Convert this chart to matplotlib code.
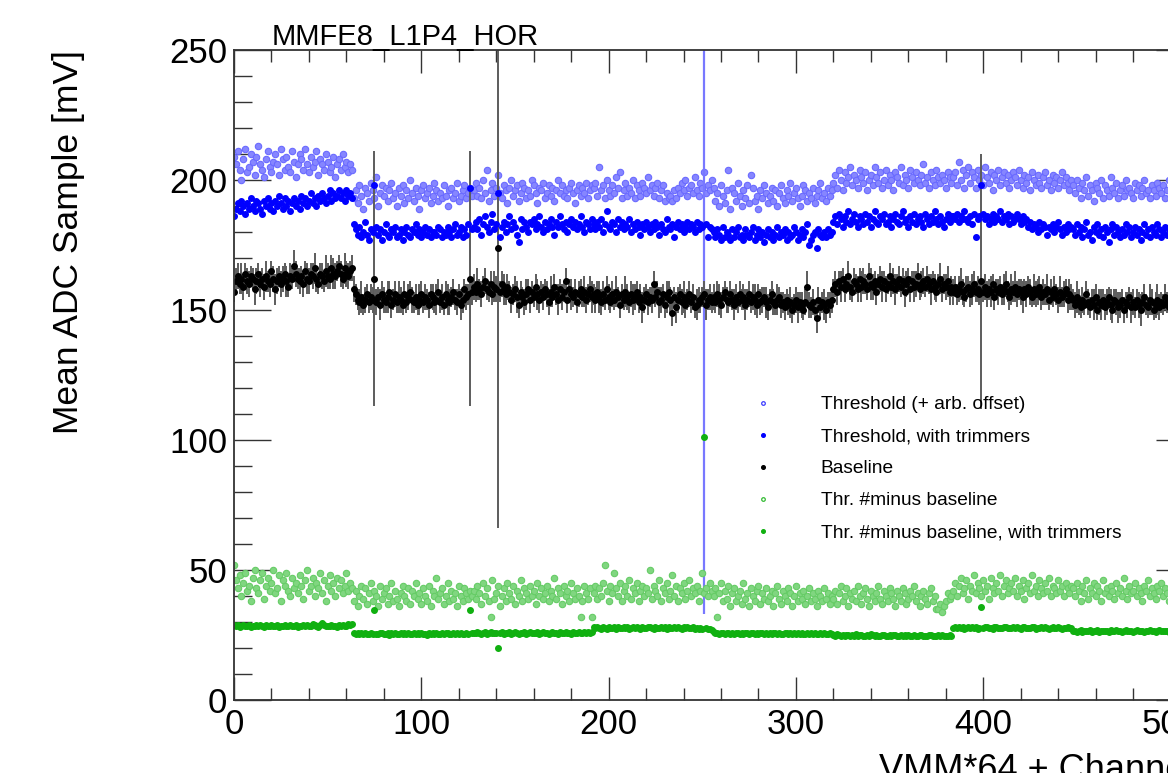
"""MMFE8_L1P4_HOR : threshold / baseline scan per channel (ROOT-style canvas)"""
import matplotlib
matplotlib.use("Agg")
import matplotlib.pyplot as plt
from matplotlib.lines import Line2D
from matplotlib.ticker import MultipleLocator
import numpy as np

plt.rcParams["font.family"] = ["Liberation Sans", "DejaVu Sans"]

# ── data: one value per channel (VMM*64 + channel), two lines of 32 per VMM ──
THR_RAW = np.array("""
209 206 211 204 200 208 212 203  205 210 207 202 209 213 206 204  201 208 211 205 203 207 210 206  202 212 208 204 209 205 203 211
207 201 206 210 208 204 212 206  203 209 205 207 211 202 208 206  204 210 207 203 205 209 201 206  208 204 210 205 207 203 206 204
193 196 191 198 194 189 197 195  192 199 196 193 201 190 195 198  194 197 192 196 199 193 195 190  197 194 198 191 196 193 200 195
192 197 194 189 196 198 193 195  197 191 194 199 196 192 195 193  198 194 190 196 197 193 195 199  192 194 196 198 193 195 197 194
196 199 194 197 193 200 195 204  192 196 199 194 197 202 195 193  198 196 191 197 200 194 196 198  192 195 199 197 193 196 194 200
198 195 191 197 196 199 193 195  198 194 197 192 196 200 195 198  194 196 193 197 199 195 191 196  198 194 197 195 199 193 196 198
197 199 194 205 196 198 193 200  196 194 198 195 201 197 203 193  196 199 194 197 195 200 193 198  196 194 199 197 195 201 196 198
194 197 199 193 196 198 192 195  193 194 192 196 193 197 195 199  196 200 194 197 198 195 201 196  194 199 197 203 195 198 196 200
197 192 195 190 198 194 191 196  204 189 197 195 192 199 194 190  196 193 198 191 202 197 192 194  189 196 193 198 195 191 194 197
192 196 190 195 198 193 191 196  194 199 192 195 197 193 190 194  198 196 192 195 193 197 191 194  196 199 193 195 192 197 194 196
199 202 197 204 200 196 203 199  201 205 198 202 200 197 204 201  199 203 196 200 202 198 205 201  199 203 197 200 204 198 202 200
196 203 201 199 205 198 202 200  197 204 201 199 203 200 198 202  206 199 201 197 203 200 198 204  201 199 202 200 197 203 201 199
201 203 198 207 200 204 197 202  205 199 203 201 197 204 200 202  198 205 201 199 203 196 202 200  204 198 201 203 199 202 197 200
203 201 198 204 200 197 202 199  201 196 203 200 198 202 199 197  201 203 198 200 196 202 199 201  197 200 203 198 201 199 196 200
198 195 200 197 193 199 196 201  194 198 196 192 199 197 195 200  193 198 196 194 201 197 195 199  193 196 198 194 200 196 197 195
193 199 196 198 194 197 200 195  196 193 198 196 194 199 197 195  198 193 196 200 194 197 195 198  196 194 199 197 195 198 196 197
""".split(), dtype=float)

THR_TRIM = np.array("""
186 189 191 188 192 190 187 191  189 193 190 188 192 191 189 187  192 190 193 189 191 188 192 190  194 191 189 193 190 192 188 191
193 190 192 189 194 191 193 190  192 195 191 193 190 194 192 195  193 191 194 196 192 195 193 194  196 193 195 192 196 194 195 193
183 181 179 182 178 180 184 179  177 181 180 198 182 179 181 177  180 183 179 178 181 180 182 178  179 181 177 180 182 179 178 181
180 183 179 181 178 180 182 179  181 178 180 180 179 182 181 178  180 179 182 180 178 181 183 179  180 182 178 181 179 183 197 181
182 184 181 185 179 183 186 182  180 184 187 181 183 195 178 182  184 180 183 186 181 184 182 179  176 185 181 184 182 180 184 183
185 181 183 186 182 180 184 181  183 185 182 179 184 182 186 183  181 184 180 183 185 182 184 181  183 186 182 180 184 183 181 185
183 181 184 182 185 180 183 188  182 181 184 183 180 185 182 184  181 183 182 185 180 183 181 184  182 179 183 181 184 182 180 183
181 184 182 179 183 181 180 185  182 181 183 178 182 184 181 183  180 182 184 181 183 182 180 184  181 183 182 256 183 178 182 181
180 178 181 179 177 182 178 180  179 177 181 178 180 182 178 179  177 181 179 178 180 182 177 179  181 178 180 176 179 181 178 180
177 179 182 178 180 179 181 177  180 178 179 182 180 177 179 181  178 180 183 175 177 179 180 174  181 179 178 180 178 181 179 180
184 186 183 187 185 182 186 184  188 183 185 187 184 182 186 185  183 187 184 186 182 185 188 184  183 186 185 187 183 184 186 182
185 187 184 183 186 188 184 185  182 186 184 187 183 185 186 184  182 187 185 183 186 184 188 185  183 186 184 182 185 187 184 186
186 185 187 184 186 185 188 185  184 186 183 187 178 185 186 198  187 185 186 183 185 187 184 186  185 188 184 186 185 187 183 186
184 185 187 185 183 186 184 185  182 184 181 183 182 180 184 181  183 182 179 182 181 183 180 182  184 181 179 182 180 183 181 182
181 179 183 180 182 178 181 184  179 180 177 182 180 183 179 181  178 182 180 176 181 183 179 182  180 178 181 179 183 180 182 178
180 182 179 181 177 180 183 179  181 178 182 180 179 183 181 178  180 182 179 181 183 180 178 181  182 179 181 180 182 178 181 180
""".split(), dtype=float)

BASELINE = np.array("""
157 161 163 160 162 159 164 161  160 163 162 158 161 164 160 162  159 163 161 160 165 162 158 161  163 160 162 164 161 159 163 162
167 164 162 161 163 160 165 162  161 164 163 166 162 160 164 163  161 165 163 162 166 164 163 165  167 164 162 166 164 163 165 166
158 156 154 153 155 152 154 156  153 155 154 162 153 155 152 156  154 153 155 157 152 154 156 153  155 154 152 156 153 155 157 154
153 155 152 154 156 153 155 154  152 156 155 153 154 157 153 155  152 156 154 153 155 157 154 153  156 152 154 158 155 156 162 157
159 157 160 158 156 159 161 158  157 160 156 159 158 174 157 160  158 156 159 157 154 156 158 155  152 157 155 153 156 158 154 157
155 159 156 154 157 155 158 156  153 157 155 159 156 154 158 155  157 161 154 158 156 155 157 153  156 158 155 157 154 156 158 155
156 154 157 155 153 156 154 158  155 153 156 154 157 155 152 156  154 157 155 153 156 154 155 157  153 155 151 154 156 153 155 154
160 155 157 153 154 156 152 155  157 154 149 155 151 154 156 153  155 152 154 156 153 155 151 152  154 153 155 156 152 154 155 153
155 153 156 154 152 155 157 154  153 156 154 152 155 153 156 154  155 152 154 156 153 155 154 152  156 153 154 155 153 151 154 156
153 152 154 155 152 153 151 154  152 153 150 152 154 151 153 152  150 153 159 152 151 153 150 147  154 151 153 152 150 153 152 154
158 160 157 161 159 162 158 160  163 159 157 161 160 158 162 159  161 160 158 163 160 159 161 157  160 162 159 161 158 160 163 159
161 158 160 162 159 161 157 160  162 158 161 159 160 163 158 160  161 159 162 160 158 161 159 157  160 162 158 160 159 161 157 159
157 159 156 158 160 157 155 158  159 156 158 160 157 158 156 161  157 159 156 158 157 160 155 158  157 159 156 158 160 157 155 158
157 159 156 158 157 155 158 156  159 157 155 158 156 157 159 155  157 156 158 154 157 155 158 156  154 157 155 156 158 154 156 155
154 152 155 153 151 154 152 156  153 151 154 152 155 150 153 152  154 151 153 155 152 150 154 153  151 152 154 150 153 152 155 151
153 151 154 152 150 153 155 152  151 154 153 150 152 154 151 153  152 155 153 151 152 154 150 153  152 151 154 152 153 151 155 153
""".split(), dtype=float)

# baseline RMS per channel (mV), one digit per channel
BASELINE_ERR = np.array([int(c) for c in """
45546545 54465454 56454565 45546454 65454546 54565445 46545654 45465545
54456454 45545465 54645454 65454545 45465454 54546545 45654545 46545465
54645454 45465545 64545456 54456454 45654545 56454645 45546454 54465456
45465545 54546454 46545654 45654545 54465456 45546545 65454546 54456454
54565445 45465454 56454565 45546545 54645454 46545645 45654546 54465455
45546454 65454546 54456545 45645454 56454565 45465545 54546454 46545654
54456545 45654546 45546454 54465456 46545645 45465545 54645454 56454565
45654545 54465456 45546545 65454546 54456454 46545654 45465545 54546454
""" if c.isdigit()], dtype=float)
# noisy channels with very wide baseline spread
NOISY_CH = [75, 126, 141, 399]
NOISY_ERR = [49, 49, 108, 49]
# trimmed threshold with huge spread
TRIM_BAD_CH = [251]
TRIM_BAD_ERR = [223]

THR_DIFF = np.array("""
52 46 43 48 40 45 49 42  44 38 47 50 43 41 46 49  39 44 47 42 45 50 41 43  48 38 46 44 49 42 40 47
43 45 41 48 44 39 46 50  42 44 47 40 45 43 49 41  46 38 44 48 42 45 40 47  43 46 41 44 49 42 45 43
38 42 36 40 44 39 43 37  41 45 38 42 40 36 44 39  41 43 37 40 45 38 42 39  36 41 44 40 38 43 37 42
40 45 39 41 37 43 40 38  44 36 42 40 47 39 41 43  37 40 45 38 42 39 41 36  44 40 38 43 41 39 42 40
42 39 44 41 37 45 40 43  38 32 46 39 41 44 36 40  43 38 45 41 39 44 37 42  40 46 38 43 41 39 44 40
42 37 45 40 43 39 41 44  38 42 40 47 39 43 41 37  44 40 42 38 45 41 39 43  40 32 38 44 41 39 43 32
41 44 39 43 40 45 52 42  38 44 41 49 43 40 45 38  42 44 40 46 39 43 41 45  38 42 44 40 43 41 50 39
44 42 40 46 38 43 41 45  39 42 48 40 44 38 43 41  45 39 42 46 40 43 41 44  38 42 49 41 43 40 45 42
40 43 32 41 45 38 42 39  44 36 41 43 38 40 42 37  45 39 41 36 43 40 38 42  44 37 41 39 43 38 40 42
36 41 44 39 37 42 40 38  43 41 36 40 44 38 41 39  42 37 40 43 38 41 39 36  42 40 38 43 39 41 37 40
39 42 37 41 44 38 40 43  36 41 39 42 38 44 40 37  41 43 39 36 42 40 38 41  44 39 37 42 40 38 43 41
39 36 42 40 38 43 41 37  39 42 40 44 38 41 36 40  42 39 37 41 43 38 40 35  35 37 34 36 38 41 39 40
42 45 40 44 47 41 43 46  39 44 42 48 41 45 43 40  46 42 44 39 47 43 41 45  42 48 40 44 46 41 43 45
42 47 40 44 42 46 39 43  45 41 48 42 44 40 46 43  41 45 42 47 40 44 43 41  46 42 44 40 45 43 41 44
43 40 45 42 38 44 41 46  39 43 41 45 40 44 42 38  46 41 43 40 44 42 39 45  41 43 40 47 42 39 44 41
42 45 40 43 41 38 44 42  46 40 43 41 39 44 42 45  40 43 41 38 44 42 40 45  41 43 39 42 44 40 43 41
""".split(), dtype=float)

DIFF_TRIM = np.array("""
28.9 28.4 28.7 28.2 28.6 28.9 28.3 28.5  28.8 28.1 28.6 28.4 28.9 28.3 28.7 28.5  28.2 28.8 28.4 28.6 28.9 28.3 28.5 28.7  28.2 28.6 28.4 28.9 28.5 28.3 28.7 28.6
28.4 28.8 28.2 28.6 28.5 28.9 28.3 28.7  28.4 28.6 29.4 28.8 28.5 28.2 28.7 29.5  28.9 28.6 28.3 28.5 28.8 28.4 28.6 28.2  28.7 28.5 28.9 28.3 28.6 29.1 28.8 29.2
25.6 25.3 25.7 25.4 25.8 25.2 25.6 25.5  25.3 25.7 25.4 34.6 25.5 25.2 25.6 25.8  25.3 25.5 25.7 25.1 25.6 25.4 25.8 25.3  25.5 25.7 25.2 25.6 25.4 25.9 25.3 25.5
25.7 25.2 25.6 25.4 25.8 25.3 25.5 25.1  25.7 25.4 25.6 25.2 25.8 25.5 25.3 25.7  25.4 25.6 25.9 25.2 25.5 25.7 25.3 25.6  25.4 25.8 25.2 25.5 25.7 25.3 34.6 25.6
25.9 25.6 26.1 25.7 25.4 25.9 26.0 25.5  25.8 26.2 25.6 25.9 25.7 20.0 25.8 26.0  25.5 25.9 25.7 26.1 25.4 25.8 26.0 25.6  25.3 25.9 25.7 26.1 25.5 25.8 26.0 25.6
25.9 25.7 26.2 25.5 25.8 26.0 25.6 25.9  25.4 25.8 26.1 25.7 25.9 25.5 26.0 25.8  25.6 26.2 25.7 25.9 25.5 26.0 25.8 25.6  26.1 25.9 25.7 26.0 25.8 26.2 25.9 26.1
27.9 27.6 28.0 27.7 27.5 27.9 27.8 27.4  28.1 27.7 27.6 27.9 27.5 28.0 27.8 27.6  27.9 27.7 28.2 27.5 27.8 28.0 27.6 27.9  27.7 27.4 28.0 27.8 27.6 27.9 28.1 27.7
27.5 27.9 27.8 27.6 28.0 27.7 27.9 27.5  28.1 27.8 27.6 27.9 27.7 28.2 27.8 27.5  27.9 27.7 28.0 27.6 27.8 27.9 27.5 27.7  27.3 27.6 27.4 101.2 27.8 27.5 27.3 27.1
26.0 25.7 25.9 25.5 25.8 25.6 25.4 25.9  25.7 25.5 25.8 25.3 25.6 25.9 25.4 25.7  25.5 25.8 25.6 25.3 25.7 25.9 25.5 25.6  25.4 25.8 25.6 25.3 25.7 25.5 25.9 25.4
25.6 25.8 25.3 25.7 25.5 25.4 25.8 25.6  25.2 25.7 25.5 25.9 25.3 25.6 25.4 25.7  25.5 25.2 25.8 25.4 25.6 25.3 25.7 25.5  25.4 25.8 25.3 25.6 25.5 25.2 25.7 25.5
25.1 24.8 25.2 24.9 24.6 25.0 24.7 25.1  24.9 24.5 25.0 24.8 25.2 24.7 24.9 25.1  24.6 24.8 25.0 24.7 25.2 24.9 24.6 25.0  24.8 24.5 24.9 25.1 24.7 24.8 25.0 24.6
24.9 25.1 24.7 24.8 25.0 24.5 24.9 24.7  25.1 24.8 24.6 25.0 24.8 24.5 24.9 25.1  24.7 24.8 24.6 25.0 24.9 24.7 24.5 24.8  25.0 24.6 24.9 24.7 24.8 24.6 24.9 24.7
27.8 28.0 27.6 27.9 27.7 28.1 27.5 27.8  27.9 27.6 28.0 27.7 27.9 27.5 27.8 35.9  27.6 27.9 28.0 27.7 27.8 27.5 27.9 28.1  27.6 27.8 27.7 28.0 27.9 27.6 27.8 27.7
28.0 27.6 27.9 27.8 27.5 27.9 28.1 27.7  27.8 27.6 28.0 27.9 27.5 27.8 27.7 28.0  27.6 27.9 27.8 27.5 27.7 28.1 27.8 27.6  27.9 27.7 27.5 27.8 27.6 27.9 27.7 27.8
26.4 26.7 26.3 26.6 26.8 26.2 26.5 26.7  26.4 26.9 26.3 26.6 26.5 26.8 26.2 26.6  26.4 26.7 26.5 26.3 26.8 26.6 26.4 26.9  26.5 26.7 26.3 26.6 26.8 26.4 26.5 26.7
26.3 26.6 26.8 26.5 26.4 26.7 26.2 26.6  26.5 26.8 26.4 26.7 26.3 26.6 26.9 26.5  26.4 26.7 26.6 26.3 26.8 26.5 26.7 26.4  26.6 26.2 26.5 26.7 26.4 26.6 26.5 26.7
""".split(), dtype=float)

LABELS = ["Threshold (+ arb. offset)", "Threshold, with trimmers", "Baseline",
          "Thr. #minus baseline", "Thr. #minus baseline, with trimmers"]
N_CH = 512

for name, arr in [("THR_RAW", THR_RAW), ("THR_TRIM", THR_TRIM), ("BASELINE", BASELINE),
                  ("BASELINE_ERR", BASELINE_ERR), ("THR_DIFF", THR_DIFF), ("DIFF_TRIM", DIFF_TRIM)]:
    assert len(arr) == N_CH, f"{name}: {len(arr)}"


def main():
    ch = np.arange(N_CH)
    base_err = BASELINE_ERR.copy()
    base_err[NOISY_CH] = NOISY_ERR
    trim_err = np.zeros(N_CH)
    trim_err[TRIM_BAD_CH] = TRIM_BAD_ERR

    fig = plt.figure(figsize=(11.68, 7.73), dpi=100)
    # frame runs past the right edge of the canvas (cropped ROOT canvas)
    ax = fig.add_axes([234 / 1168, 73 / 773, 959 / 1168, 650 / 773])

    ax.plot(ch, THR_RAW, ls="none", marker="o", ms=4.6, mfc="#8686ff", mec="#6a6aff", mew=0.8)
    ax.errorbar(ch, THR_TRIM, yerr=trim_err, fmt="o", ms=4.0, color="#0000ff",
                ecolor="#7878ff", elinewidth=1.6, capsize=0)
    ax.errorbar(ch, BASELINE, yerr=base_err, fmt="o", ms=4.0, color="black",
                ecolor="#5c5c5c", elinewidth=1.4, capsize=0)
    ax.plot(ch, THR_DIFF, ls="none", marker="o", ms=4.6, mfc="#80d680", mec="#66cc66", mew=0.8)
    ax.plot(ch, DIFF_TRIM, ls="none", marker="o", ms=4.0, color="#10b010")

    ax.set_xlim(0, N_CH)
    ax.set_ylim(0, 250)
    ax.xaxis.set_major_locator(MultipleLocator(100))
    ax.xaxis.set_minor_locator(MultipleLocator(20))
    ax.yaxis.set_major_locator(MultipleLocator(50))
    ax.yaxis.set_minor_locator(MultipleLocator(10))
    ax.tick_params(which="both", direction="in", top=True, right=True, color="#333333",
                   width=1.0, labelsize=25)
    ax.tick_params(axis="x", which="major", length=16.5, pad=6)
    ax.tick_params(axis="x", which="minor", length=8.5)
    ax.tick_params(axis="y", which="major", length=26.5, pad=5)
    ax.tick_params(axis="y", which="minor", length=13)
    for sp in ax.spines.values():
        sp.set_linewidth(1.3)
        sp.set_color("#333333")

    handles = [
        Line2D([], [], ls="none", marker="o", ms=2.6, mfc="white", mec="#3b3bff", mew=0.9),
        Line2D([], [], ls="none", marker="o", ms=2.6, color="#0000ff"),
        Line2D([], [], ls="none", marker="o", ms=2.6, color="black"),
        Line2D([], [], ls="none", marker="o", ms=2.6, mfc="white", mec="#33bb33", mew=0.9),
        Line2D([], [], ls="none", marker="o", ms=2.6, color="#10b010"),
    ]
    ax.legend(handles, LABELS, loc="upper left", bbox_to_anchor=(753.6 / 1168, 1 - 396 / 773),
              bbox_transform=fig.transFigure, frameon=False, fontsize=13.8,
              handlelength=1.0, handletextpad=2.5, labelspacing=0.76,
              borderpad=0, borderaxespad=0)

    fig.text(272 / 1168, 1 - 45 / 773, "MMFE8_L1P4_HOR", fontsize=21, va="baseline")
    fig.text(69 / 1168, 1 - 50 / 773, "Mean ADC Sample [mV]", rotation=90,
             ha="center", va="top", fontsize=25.5)
    fig.text(1193 / 1168, 1 - 753 / 773, "VMM*64 + Channel", ha="right", va="top", fontsize=26)

    fig.savefig("out.png", dpi=100)
    plt.close(fig)


if __name__ == "__main__":
    main()
